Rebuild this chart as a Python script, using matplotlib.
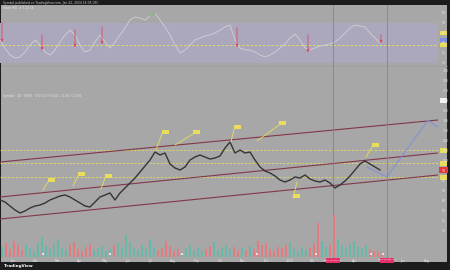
import numpy as np
import matplotlib
matplotlib.use('Agg')
import matplotlib.pyplot as plt
from matplotlib.patches import Rectangle

# ---------------- data ----------------
days = list(range(0, 381, 5))
closes = [60, 58, 54, 50, 47, 49, 52, 54, 55, 57,
          60, 62, 64, 65, 63, 60, 57, 54, 53, 58,
          63, 65, 67, 60, 67, 72, 77, 82, 88, 94,
          100, 108, 105, 107, 96, 92, 90, 93, 100, 103,
          105, 103, 101, 102, 104, 112, 118, 107, 110, 107,
          108, 100, 93, 89, 87, 84, 80, 78, 80, 83,
          82, 85, 81, 79, 78, 80, 77, 72, 75, 79,
          84, 90, 96, 99, 96, 93, 90]

osc_y = [40, 48, 55, 58, 57, 52, 45, 40, 45, 52, 55, 50, 42, 35, 30, 35, 45, 52, 50, 42,
         35, 42, 48, 42, 35, 28, 20, 17, 18, 20, 16, 13, 20, 27, 35, 45, 53, 50, 45, 40,
         38, 36, 35, 33, 30, 27, 25, 40, 48, 50, 50, 52, 55, 57, 55, 52, 48, 44, 38, 34,
         40, 48, 50, 48, 46, 45, 44, 42, 38, 33, 28, 25, 26, 27, 33, 38, 43]
osc = [93 - v for v in osc_y]

volume = [10, 14, 8, 16, 12, 7, 12, 9, 6, 14, 20, 11, 8, 13, 18, 9, 7, 12, 15, 8,
          6, 10, 13, 7, 9, 11, 6, 8, 12, 14, 10, 22, 15, 9, 7, 12, 8, 18, 10, 7,
          9, 16, 11, 6, 8, 5, 9, 12, 7, 10, 6, 8, 11, 15, 7, 9, 12, 8, 10, 6,
          9, 7, 11, 8, 16, 12, 14, 8, 6, 10, 9, 12, 15, 8, 6, 10, 7, 9, 14, 34,
          16, 10, 12, 42, 18, 12, 10, 13, 16, 11, 9, 12, 8, 6, 5, 4]
vol_days = [2 + 4 * i for i in range(len(volume))]

channel_x = [0, 438]
channel_upper = [98, 140]
channel_mid = [63, 107]
channel_low = [41, 85]

levels = [110, 97, 83]

flag_anchor_x = [43, 73, 101, 156, 175, 231, 257, 366, 297]
flag_anchor_y = [70, 74, 71, 110, 115, 118, 119, 103, 78]
flag_x = [48, 78, 105, 162, 193, 234, 279, 372, 293]
flag_y = [78, 84, 82, 126, 126, 131, 135, 113, 62]

proj_x = [367, 387, 428, 437]
proj_y = [93, 83, 140, 133]

arrow_x = [2, 42, 75, 102, 237, 308, 381]
arrow_top = [73, 61, 66, 69, 68, 61, 61]
arrow_bot = [48, 40, 43, 46, 43, 38, 47]

event_days = [333, 387]
event_labels = ["Mon 16 Oct '23", "Wed 20 Dec '23"]
marker_days = [43, 110, 182, 257, 316, 371, 383]

xtick_pos = [13, 35, 58, 80, 105, 128, 150, 173, 197, 220, 243, 267, 290, 312, 355, 403, 427]
xtick_lab = ['Jan', 'Feb', 'Mar', 'Apr', 'May', 'Jun', 'Jul', 'Aug', 'Sep', 'Oct', 'Nov', 'Dec',
             '2023', 'Feb', 'Apr', 'Jun', 'Aug']

# ---------------- style ----------------
W, H = 450, 270
GRAY = '#a7a7a7'
BAND = '#aba8bd'
YEL = '#e8de5c'
RED = '#e0485e'
VLINE = '#d8606e'
CHAN = '#823848'
TEAL = '#68b8a9'
VRED = '#e27c80'
TXT = '#e8e8e8'

fig = plt.figure(figsize=(4.5, 2.7), dpi=100)
fig.patch.set_facecolor('#1c1c1c')


def px_axes(x0, y0, x1, y1):
    return fig.add_axes([x0 / W, 1 - y1 / H, (x1 - x0) / W, (y1 - y0) / H])


bg = px_axes(0, 0, 450, 270)
bg.set_xlim(0, 450)
bg.set_ylim(270, 0)
bg.axis('off')
bg.set_zorder(0)
bg.add_patch(Rectangle((1, 5), 446, 257, color=GRAY, lw=0))
bg.plot([1, 447], [66, 66], color='#9a9a9a', lw=0.4)
bg.text(3, 2.6, 'Symbol published on TradingView.com, Jan 22, 2024 16:05 UTC',
        fontsize=2.2, color='#cfcfcf', va='center')
bg.text(4, 266.3, 'TradingView', fontsize=3, color='white', va='center', fontweight='bold')
bg.text(3, 8, 'Stoch RSI  3 3 14 14', fontsize=2.2, color=TXT, va='center')
bg.text(3, 96.5, 'Symbol · 1D · NYSE   O 0.00  H 0.00  L 0.00  C 0.00', fontsize=2.2,
        color=TXT, va='center')

# ---------------- oscillator pane ----------------
ao = px_axes(0, 5, 438, 66)
ao.set_facecolor('none')
ao.set_xlim(0, 438)
ao.set_ylim(27, 88)
ao.axhspan(30, 70, color=BAND, lw=0)
ao.axhline(48, color=YEL, lw=0.6, ls=(0, (3, 2)))
ao.plot(days, osc, color='#d2d2d2', lw=0.6)
oarr = np.array(osc, dtype=float)
ao.plot(days, np.where(oarr >= 77, oarr, np.nan), color='#6cbf6a', lw=0.8)
for x, t, b in zip(arrow_x, arrow_top, arrow_bot):
    ao.annotate('', xy=(x, b), xytext=(x, t),
                arrowprops=dict(arrowstyle='-|>', color=RED, lw=0.6, mutation_scale=3.5))
for d in event_days:
    ao.axvline(d, color=VLINE, lw=0.6)
ao.yaxis.tick_right()
ao.set_yticks([30, 40, 50, 60, 70, 80])
ao.tick_params(axis='y', length=0, labelsize=2.2, labelcolor=TXT, pad=3)
ao.set_xticks([])
for s in ao.spines.values():
    s.set_visible(False)
for lv, c in [(60, YEL), (53, '#7f8fe0'), (48, YEL)]:
    ao.add_patch(Rectangle((440, lv - 2), 7, 4, color=c, clip_on=False, lw=0))

# ---------------- price pane ----------------
am = px_axes(0, 66, 438, 258)
am.set_facecolor('none')
am.set_xlim(0, 438)
am.set_ylim(2, 194)
for lv in levels:
    am.axhline(lv, color=YEL, lw=0.55, ls=(0, (3, 2)))
for ys in (channel_upper, channel_mid, channel_low):
    am.plot(channel_x, ys, color=CHAN, lw=0.8)
for d in event_days:
    am.axvline(d, color=VLINE, lw=0.6)
am.plot(days, closes, color='#353535', lw=1.0)
am.plot(proj_x, proj_y, color='#7d8fd8', lw=0.7)
for axx, ayy, fx, fy in zip(flag_anchor_x, flag_anchor_y, flag_x, flag_y):
    am.plot([axx, fx], [ayy, fy], color=YEL, lw=0.6)
    am.add_patch(Rectangle((fx, fy), 7, 4, color=YEL, lw=0))
am.yaxis.tick_right()
am.set_yticks(list(range(30, 191, 10)))
am.tick_params(axis='y', length=0, labelsize=2.2, labelcolor=TXT, pad=3)
am.set_xticks(xtick_pos)
am.set_xticklabels(xtick_lab)
am.tick_params(axis='x', length=0, labelsize=2.2, labelcolor=TXT, pad=1)
for s in am.spines.values():
    s.set_visible(False)
for lv in levels:
    am.add_patch(Rectangle((440, lv - 2.5), 7, 5, color=YEL, clip_on=False, lw=0))
am.add_patch(Rectangle((439, closes[-1] - 3), 9, 6, color='#e23a3a', clip_on=False, lw=0))
am.add_patch(Rectangle((440, 157.5), 7, 5, color='#f4f4f4', clip_on=False, lw=0))
for d, lab in zip(event_days, event_labels):
    am.add_patch(Rectangle((d - 7, -2.5), 14, 5, color='#e5306a', clip_on=False, lw=0))
    am.text(d, 0, lab, fontsize=1.6, color='white', ha='center', va='center', clip_on=False)

# ---------------- volume ----------------
av = px_axes(0, 215, 438, 257)
av.set_facecolor('none')
av.set_xlim(0, 438)
av.set_ylim(0, 42)
cl = np.interp(vol_days, days, closes)
prev = np.concatenate([[cl[0]], cl[:-1]])
vcols = [TEAL if c >= p else VRED for c, p in zip(cl, prev)]
av.bar(vol_days, volume, width=2.6, color=vcols, lw=0)
av.scatter(marker_days, [3] * len(marker_days), s=2.5, marker='s', color='#f6dbe6', lw=0, zorder=5)
av.axis('off')

fig.savefig('out.png', dpi=100, facecolor=fig.get_facecolor())
